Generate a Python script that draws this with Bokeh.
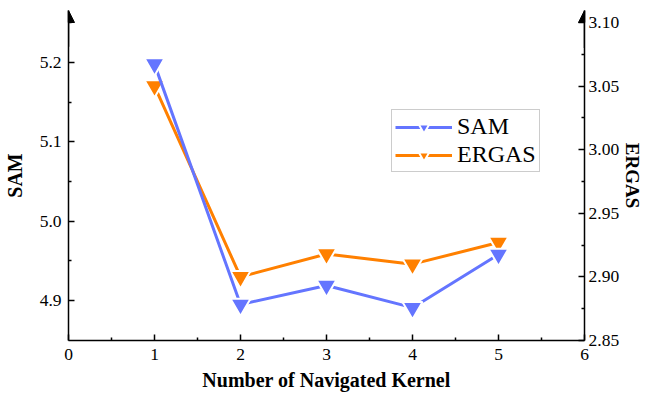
from bokeh.plotting import figure
from bokeh.models import (Range1d, LinearAxis, FixedTicker, PrintfTickFormatter,
                          Arrow, NormalHead, Legend, LegendItem)
from bokeh.embed import file_html
from bokeh.resources import INLINE

kernels = [1, 2, 3, 4, 5]
sam = [5.198, 4.895, 4.919, 4.891, 4.958]
ergas = [3.050, 2.900, 2.918, 2.910, 2.927]

x_ticks = [0, 1, 2, 3, 4, 5, 6]
sam_ticks = [4.9, 5.0, 5.1, 5.2]
ergas_ticks = [2.85, 2.90, 2.95, 3.00, 3.05, 3.10]

BLUE = "#6475FF"
ORANGE = "#FF8000"
FONT = "Liberation Serif"

p = figure(width=647, height=396, output_backend="svg", toolbar_location=None,
           x_range=Range1d(0, 6), y_range=Range1d(4.8496, 5.2656),
           min_border_left=68, min_border_right=63, min_border_top=10, min_border_bottom=56)
p.outline_line_color = None
p.xgrid.visible = False
p.ygrid.visible = False
p.extra_y_ranges = {"right": Range1d(2.85, 3.1094)}

def style_axis(ax):
    ax.axis_line_color = "black"
    ax.axis_line_width = 1.5
    ax.major_tick_in = 6
    ax.major_tick_out = 0
    ax.minor_tick_in = 3
    ax.minor_tick_out = 0
    ax.major_tick_line_width = 1.5
    ax.minor_tick_line_width = 1.5
    ax.major_label_text_font = FONT
    ax.major_label_text_font_size = "17.5px"
    ax.major_label_text_color = "black"
    ax.axis_label_text_font = FONT
    ax.axis_label_text_font_size = "20px"
    ax.axis_label_text_font_style = "bold"
    ax.axis_label_text_color = "black"

xa = p.xaxis[0]
xa.ticker = FixedTicker(ticks=x_ticks, minor_ticks=[0.5, 1.5, 2.5, 3.5, 4.5, 5.5])
xa.axis_label = "Number of Navigated Kernel"
style_axis(xa)
xa.major_label_standoff = 8
xa.axis_label_standoff = 6

ya = p.yaxis[0]
ya.ticker = FixedTicker(ticks=sam_ticks, minor_ticks=[4.95, 5.05, 5.15, 5.25])
ya.formatter = PrintfTickFormatter(format="%.1f")
ya.axis_label = "SAM"
style_axis(ya)
ya.major_label_standoff = 7
ya.axis_label_standoff = 11

ra = LinearAxis(y_range_name="right", axis_label="ERGAS")
ra.ticker = FixedTicker(ticks=ergas_ticks, minor_ticks=[2.875, 2.925, 2.975, 3.025, 3.075])
ra.formatter = PrintfTickFormatter(format="%.2f")
style_axis(ra)
ra.axis_label_text_font_size = "19px"
ra.major_label_standoff = 4
ra.axis_label_standoff = 0
p.add_layout(ra, "right")

# axis arrows
p.add_layout(Arrow(end=NormalHead(size=12, fill_color="black", line_color="black", line_width=1),
                   x_start=0, y_start=5.22, x_end=0, y_end=5.2656,
                   line_color="black", line_width=1.5))
p.add_layout(Arrow(end=NormalHead(size=12, fill_color="black", line_color="black", line_width=1),
                   x_start=6, y_start=3.08, x_end=6, y_end=3.1094, y_range_name="right",
                   line_color="black", line_width=1.5))

# ERGAS (drawn first, below)
el = p.line(kernels, ergas, y_range_name="right", color=ORANGE, line_width=3)
em = p.scatter(kernels, ergas, y_range_name="right", marker="inverted_triangle", size=20,
               fill_color=ORANGE, line_color="white", line_width=2)
# SAM
sl = p.line(kernels, sam, color=BLUE, line_width=3)
sm = p.scatter(kernels, sam, marker="inverted_triangle", size=20,
               fill_color=BLUE, line_color="white", line_width=2)

legend = Legend(items=[LegendItem(label="SAM", renderers=[sl, sm]),
                       LegendItem(label="ERGAS", renderers=[el, em])],
                location=(323, 168))
legend.label_text_font = FONT
legend.label_text_font_size = "24px"
legend.label_text_color = "black"
legend.glyph_width = 57
legend.glyph_height = 26
legend.label_height = 26
legend.label_standoff = 5
legend.spacing = 1
legend.padding = 3
legend.margin = 0
legend.border_line_color = "#9a9a9a"
legend.border_line_width = 1
legend.background_fill_alpha = 1
p.add_layout(legend, "center")

open("out.html", "w").write(file_html(p, INLINE))
